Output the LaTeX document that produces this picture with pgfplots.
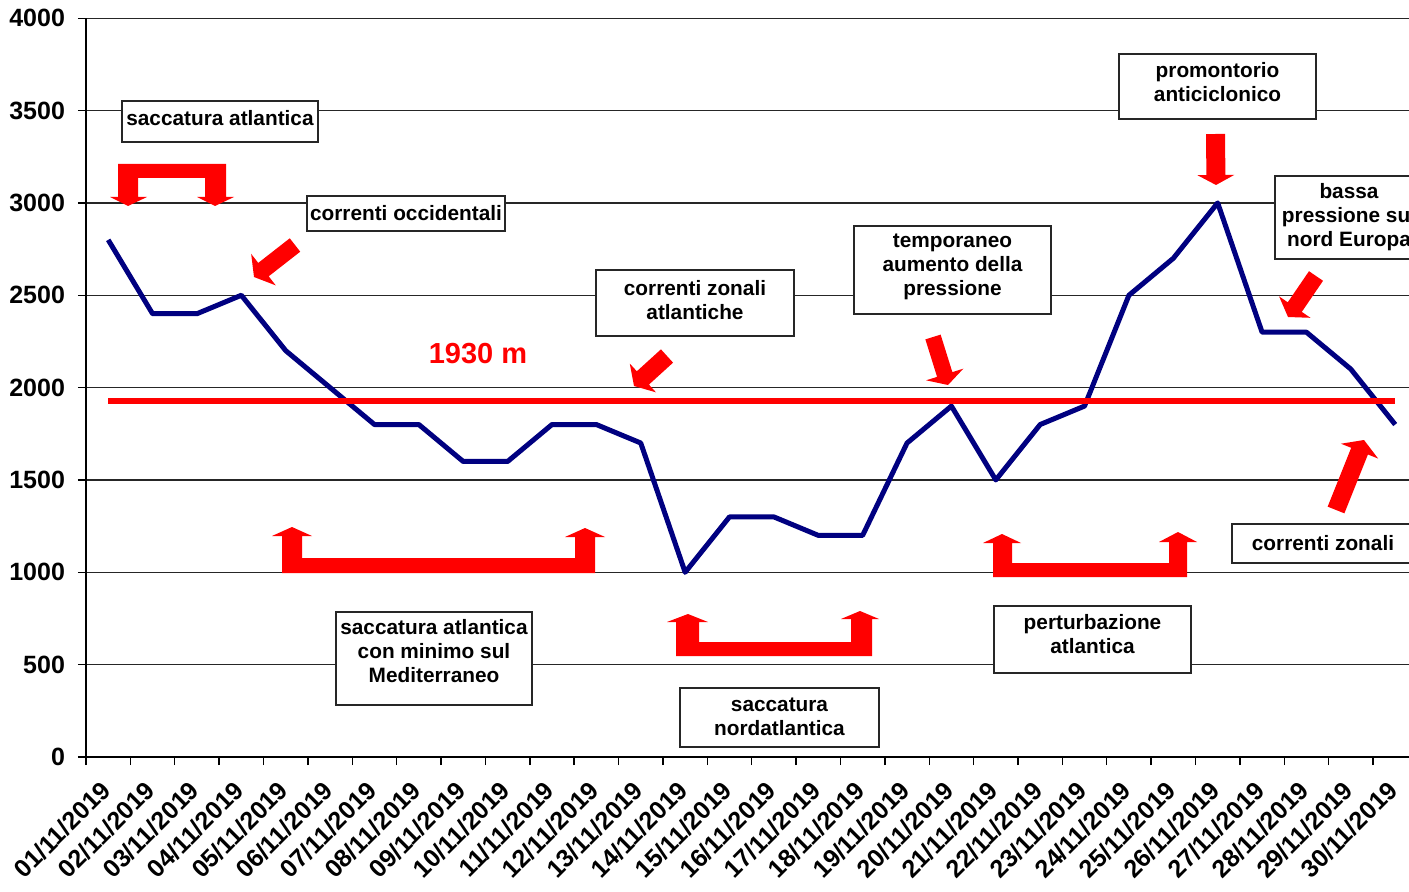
\documentclass[border=0pt]{standalone}
\usepackage{pgfplots}
\pgfplotsset{compat=1.18}
\usepackage{fontspec}
\setmainfont{Liberation Sans}
\usetikzlibrary{calc}
\definecolor{navyline}{RGB}{0,0,128}
\newcommand{\af}{\fontsize{10.4}{12}\selectfont\bfseries}
\newcommand{\barrow}[5]{%
  \path (#1) coordinate (bS) (#2) coordinate (bT);
  \path ($(bT)!#5!(bS)$) coordinate (bB);
  \fill[red] ($(bS)!#3!90:(bT)$) -- ($(bB)!#3!90:(bT)$) -- ($(bB)!#4!90:(bT)$) -- (bT)
     -- ($(bB)!#4!-90:(bT)$) -- ($(bB)!#3!-90:(bT)$) -- ($(bS)!#3!-90:(bT)$) -- cycle;}
\begin{document}
\begin{tikzpicture}
\begin{axis}[
  at={(43pt,67pt)}, anchor=south west,
  scale only axis, width=665.7pt, height=369.4pt,
  xmin=0.5, xmax=30.5, ymin=0, ymax=4000,
  axis lines*=left, axis line style={-, black, line width=0.7pt},
  xtick={0.5,1.5,...,30.5},
  x tick label as interval,
  xticklabels={01/11/2019,02/11/2019,03/11/2019,04/11/2019,05/11/2019,06/11/2019,07/11/2019,08/11/2019,09/11/2019,10/11/2019,11/11/2019,12/11/2019,13/11/2019,14/11/2019,15/11/2019,16/11/2019,17/11/2019,18/11/2019,19/11/2019,20/11/2019,21/11/2019,22/11/2019,23/11/2019,24/11/2019,25/11/2019,26/11/2019,27/11/2019,28/11/2019,29/11/2019,30/11/2019},
  ytick={0,500,...,4000},
  ymajorgrids, grid style={black!85, line width=0.6pt},
  tick align=outside, major tick length=4pt,
  tick style={black, line width=0.7pt},
  ticklabel style={font=\fontsize{12.5}{14}\selectfont\bfseries},
  /pgf/number format/assume math mode=true,
  /pgf/number format/1000 sep={},
  xticklabel style={xshift=-4.5pt, yshift=-5.5pt, rotate=45, anchor=north east, inner sep=1pt},
  yticklabel style={xshift=-3pt},
]
\addplot[navyline, line width=2.5pt, line join=round] coordinates {
(1,2800)(2,2400)(3,2400)(4,2500)(5,2200)(6,2000)(7,1800)(8,1800)(9,1600)(10,1600)
(11,1800)(12,1800)(13,1700)(14,1000)(15,1300)(16,1300)(17,1200)(18,1200)(19,1700)(20,1900)
(21,1500)(22,1800)(23,1900)(24,2500)(25,2700)(26,3000)(27,2300)(28,2300)(29,2100)(30,1800)};
\addplot[red, line width=3pt] coordinates {(1,1930) (30,1930)};
\end{axis}
\begin{scope}[shift={(0pt,445.5pt)}, x=0.5pt, y=-0.5pt]
  % boxes
  \begin{scope}[fill=white, draw=black!85, line width=0.7pt]
    \filldraw (122,101) rectangle (318,142);
    \filldraw (307,196) rectangle (505,231);
    \filldraw (596,270) rectangle (794,336);
    \filldraw (854,226) rectangle (1051,314);
    \filldraw (1119,54) rectangle (1316,119);
    \filldraw (1275,176) rectangle (1423,259);
    \filldraw (1232,524) rectangle (1414,563);
    \filldraw (336,612) rectangle (532,705);
    \filldraw (680,688) rectangle (879,747);
    \filldraw (994,606) rectangle (1191,673);
  \end{scope}
  \begin{scope}[every node/.style={align=center, inner sep=0pt, font=\af, text=black}]
    \node at (220,118) {saccatura atlantica};
    \node at (406,213.5) {correnti occidentali};
    \node at (695,300) {correnti zonali\\atlantiche};
    \node at (952.5,267) {temporaneo\\aumento della\\pressione};
    \node at (1217.5,82) {promontorio\\anticiclonico};
    \node at (1349,217) {bassa\\pressione sul\\nord Europa};
    \node at (1323,543) {correnti zonali};
    \node at (434,651) {saccatura atlantica\\con minimo sul\\Mediterraneo};
    \node at (779.5,716.5) {saccatura\\nordatlantica};
    \node at (1092.5,634) {perturbazione\\atlantica};
  \end{scope}
  \node[text=red, inner sep=0pt, font=\fontsize{14.5}{16}\selectfont\bfseries] at (478,354) {1930 m};
  % brackets
  \fill[red] (118,164) -- (226,164) -- (226,197) -- (234,197) -- (215,206) -- (197,197) -- (205,197) -- (205,178) -- (138,178) -- (138,197) -- (147,197) -- (128,206) -- (110,197) -- (118,197) -- cycle;
  \fill[red] (282,573) -- (595,573) -- (595,537) -- (605,537) -- (585,528) -- (565,537) -- (575,537) -- (575,558) -- (302,558) -- (302,536) -- (312,536) -- (292,527) -- (272,536) -- (282,536) -- cycle;
  \fill[red] (676,656) -- (872,656) -- (872,619) -- (879,619) -- (860,611) -- (841,619) -- (851,619) -- (851,642) -- (699,642) -- (699,622) -- (708,622) -- (688,614) -- (667,622) -- (676,622) -- cycle;
  \fill[red] (993,577) -- (1187,577) -- (1187,542) -- (1197,542) -- (1178,532) -- (1159,542) -- (1169,542) -- (1169,563) -- (1012,563) -- (1012,543) -- (1021,543) -- (1002,534) -- (983,543) -- (993,543) -- cycle;
  % single arrows
  \barrow{295,245}{254,277}{4.25pt}{10pt}{6pt}
  \barrow{667,356}{634,386}{4.5pt}{9.75pt}{6pt}
  \barrow{933,337}{948,385}{4pt}{9.75pt}{5.5pt}
  \barrow{1215.5,134}{1216,185}{4.75pt}{9.25pt}{5pt}
  \barrow{1316,276}{1288,317}{4.25pt}{9.5pt}{6pt}
  \barrow{1336,510}{1364,440}{4.5pt}{10pt}{6pt}
\end{scope}
\pgfresetboundingbox
\useasboundingbox (0pt,0pt) rectangle (704.5pt,445.5pt);
\end{tikzpicture}
\end{document}
